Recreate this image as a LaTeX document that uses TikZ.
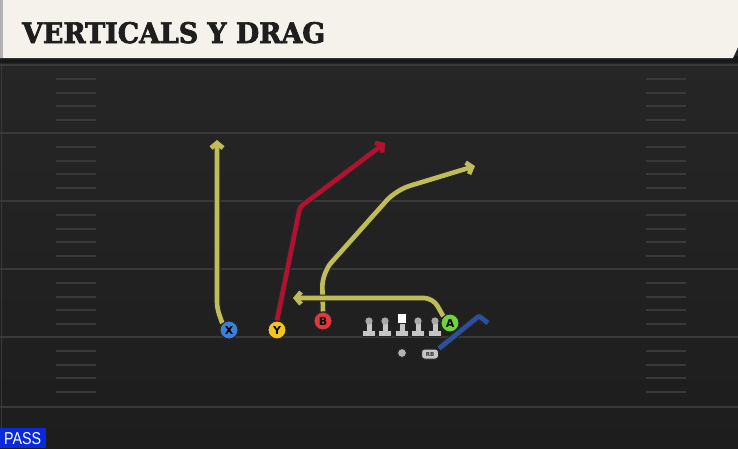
\documentclass[tikz,border=0pt]{standalone}
\usepackage{fontspec}
\usetikzlibrary{arrows.meta}
\setmainfont{DejaVu Sans}
\newfontfamily\titlefont[BoldFeatures={FakeBold=2.5}]{DejaVu Serif}
\newfontfamily\passfont{Liberation Sans}
\definecolor{bgc}{HTML}{232323}
\definecolor{bgtop}{HTML}{262626}
\definecolor{bgbot}{HTML}{1D1D1D}
\definecolor{yardc}{HTML}{393939}
\definecolor{hashc}{HTML}{393939}
\definecolor{barc}{HTML}{F4F2EB}
\definecolor{titc}{HTML}{1E1E1E}
\definecolor{routey}{HTML}{BFBD58}
\definecolor{router}{HTML}{B0122F}
\definecolor{routeb}{HTML}{2C4F9E}
\definecolor{px}{HTML}{3D80DA}
\definecolor{py}{HTML}{F2C51A}
\definecolor{pb}{HTML}{E2383C}
\definecolor{pa}{HTML}{6ED33C}
\definecolor{passc}{HTML}{0A28DC}
\definecolor{lmc}{HTML}{C6C6C6}
\definecolor{lmh}{HTML}{A8A8A8}
\newcommand\rtdraw[3]{\draw[rtbase,#2,draw=black!85,line width=7pt]#3;\draw[rtbase,#2,draw=#1,line width=4.6pt]#3;}
\tikzset{
  rtbase/.style={line join=round},
  tipd/.style={-{Straight Barb[length=5pt,width=12pt]}},
  yard/.style={draw=yardc,line width=2pt},
  hashm/.style={draw=hashc,line width=1.6pt},
  player/.style={circle,draw=black!85,line width=1pt,minimum size=18pt,inner sep=0pt,
    font=\fontsize{11}{11}\selectfont\bfseries,text=black},
  rbbox/.style={draw=black!85,fill=lmc,rounded corners=3pt,line width=1pt,minimum width=17pt,minimum height=10pt,
    inner sep=0pt,font=\fontsize{5.5}{5.5}\selectfont\bfseries,text=black!80},
  lman/.pic={
    \fill[black!85] (-7,329.5) rectangle (7,337);
    \fill[black!85] (-3.5,321) rectangle (3.5,332);
    \fill[black!85] (0,321) circle (4.6);
    \fill[lmc] (-6,330.5) rectangle (6,336);
    \fill[lmc] (-2.5,322) rectangle (2.5,332);
    \fill[lmh] (0,321) circle (3.6);
  }
}
\begin{document}
\begin{tikzpicture}[x=1pt,y=-1pt]
\useasboundingbox (0,0) rectangle (738,448);
\fill[bgtop] (0,0) rectangle (738,448);
\foreach \ii in {0,...,38} {
  \pgfmathsetmacro\pp{100*\ii/38}
  \fill[bgbot!\pp!bgtop] (0,60+10*\ii) rectangle (738,71+10*\ii);
}
% left border
\draw[yardc,line width=1pt] (1.5,60) -- (1.5,448);
% yard lines
\foreach \yy in {65,133,201,269,337,407} { \draw[yard] (0,\yy) -- (738,\yy); }
% hash marks
\foreach \bb in {65,133,201,269,337} {
  \foreach \oo in {14,28,41,55} {
    \draw[hashm] (56,\bb+\oo) -- (96,\bb+\oo);
    \draw[hashm] (646,\bb+\oo) -- (686,\bb+\oo);
  }
}
% title bar
\fill[black!90] (0,56) rectangle (738,63);
\fill[barc] (0,0) -- (738,0) -- (738,47) -- (733,58) -- (0,58) -- cycle;
\fill[gray!60] (0,0) rectangle (3,58);
\node[anchor=base west,inner sep=0pt,text=titc] (title) at (22,43)
  {\resizebox{303pt}{21pt}{\titlefont\bfseries VERTICALS Y DRAG}};
% players
\node[player,fill=px] (X) at (229,330) {X};
\node[player,fill=py] (Y) at (277,330) {Y};
\node[player,fill=pb] (B) at (323,321) {B};
\node[player,fill=pa] (A) at (450,323) {A};
\node[circle,fill=gray!60,draw=black!85,line width=1pt,minimum size=9pt,inner sep=0pt] (QB) at (402,353) {};
\node[rbbox] (RB) at (430,354) {RB};
% route coordinates
\coordinate (xc) at (217,308);
\coordinate (xe) at (217,140);
\coordinate (yc) at (300,207);
\coordinate (ye) at (385,143);
\coordinate (bc1) at (322,273);
\coordinate (bc2) at (396,190);
\coordinate (be) at (475,166);
\coordinate (ac) at (433,298);
\coordinate (ae) at (293,298);
\coordinate (rc) at (479,316);
\coordinate (re) at (488,323);
% routes
\rtdraw{routey}{tipd,rounded corners=6pt}{(X.north west) -- (xc) -- (xe)}
\rtdraw{router}{tipd,rounded corners=3pt}{(Y.north) -- (yc) -- (ye)}
\rtdraw{routey}{tipd,rounded corners=14pt}{(B.north) -- (bc1) -- (bc2) -- (be)}
\rtdraw{routey}{tipd,rounded corners=9pt}{(A.north west) -- (ac) -- (ae)}
\rtdraw{routeb}{rounded corners=1pt}{(RB.north east) -- (rc) -- (re)}
% redraw players on top
\node[player,fill=px] at (X) {X};
\node[player,fill=py] at (Y) {Y};
\node[player,fill=pb] at (B) {B};
\node[player,fill=pa] at (A) {A};
\node[rbbox] at (RB) {RB};
% linemen
\foreach \xx in {369,385,418,435} { \pic at (\xx,0) {lman}; }
\pic at (402,0) {lman};
\fill[black!85] (396.5,312.5) rectangle (406.5,323.5);
\fill[white] (397.5,313.5) rectangle (405.5,322.5);
% pass label
\fill[passc] (0,428) rectangle (46,448);
\node[anchor=base west,inner sep=0pt,text=white] (pass) at (4,444)
  {\resizebox{37pt}{12pt}{\passfont PASS}};
\end{tikzpicture}
\end{document}
